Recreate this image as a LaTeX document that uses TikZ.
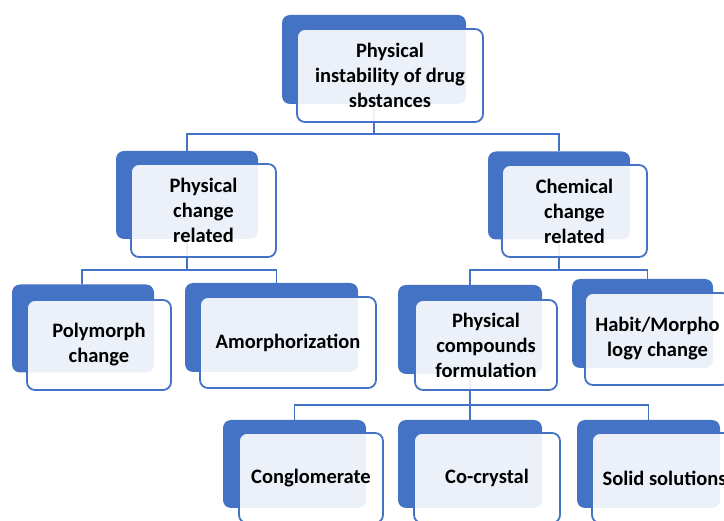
\documentclass[tikz,border=0pt]{standalone}
\usepackage{fontspec}
\setmainfont{Carlito}
\definecolor{accent}{HTML}{4472C4}

\begin{document}
\begin{tikzpicture}[
                x=1pt, y=-1pt,
                back/.style={rectangle,rounded corners=8pt,fill=accent,inner sep=0pt},
                front/.style={rectangle,rounded corners=8pt,draw=accent,line width=1.8pt,
                        fill=white,fill opacity=0.9,text opacity=1,align=center,inner sep=0pt,
                        font=\fontsize{20.5}{25}\selectfont\bfseries},
                link/.style={draw=accent,line width=1.8pt}
            ]

            \clip (0,0) rectangle (724,521);

            \node[back,minimum width=184pt,minimum height=89pt] (topb) at (374,59.5) {};
            \node[back,minimum width=142pt,minimum height=88pt] (physb) at (187,195) {};
            \node[back,minimum width=142pt,minimum height=88pt] (chemb) at (559,195.5) {};
            \node[back,minimum width=142pt,minimum height=88pt] (polyb) at (83,328.5) {};
            \node[back,minimum width=173pt,minimum height=89pt] (amorb) at (271.5,327.5) {};
            \node[back,minimum width=144pt,minimum height=89pt] (compb) at (470,329.5) {};
            \node[back,minimum width=141pt,minimum height=89pt] (habitb) at (642.5,323.5) {};
            \node[back,minimum width=143pt,minimum height=88pt] (congb) at (294.5,464) {};
            \node[back,minimum width=144pt,minimum height=88pt] (cocrb) at (470,464) {};
            \node[back,minimum width=143pt,minimum height=88pt] (solib) at (648.5,464) {};

            \draw[link] (topb.center) -- (topb.center |- 0,134);
            \draw[link] (physb.north) -- (physb.north |- 0,134) -- (chemb.north |- 0,134) -- (chemb.north);
            \draw[link] (physb.center) -- (physb.center |- 0,270);
            \draw[link] ([xshift=-1pt]polyb.north) -- ([xshift=-1pt]polyb.north |- 0,270)
                -- ([xshift=5pt]amorb.north |- 0,270) -- ([xshift=5pt]amorb.north);
            \draw[link] (chemb.center) -- (chemb.center |- 0,270);
            \draw[link] (compb.north) -- (compb.north |- 0,270) -- ([xshift=5pt]habitb.north |- 0,270)
                -- ([xshift=5pt]habitb.north);
            \draw[link] (compb.center) -- (compb.center |- 0,405);
            \draw[link] (congb.north) -- (congb.north |- 0,405) -- (solib.north |- 0,405) -- (solib.north);
            \draw[link] (cocrb.north) -- (cocrb.north |- 0,405);

            \node[front,minimum width=186pt,minimum height=93pt] (top) at (390,75.5) {Physical\\instability of drug\\sbstances};
            \node[front,minimum width=145pt,minimum height=93pt] (phys) at (203.5,210.5) {Physical\\change\\related};
            \node[front,minimum width=145pt,minimum height=92pt] (chem) at (574.5,211) {Chemical\\change\\related};
            \node[front,minimum width=144pt,minimum height=90pt] (poly) at (99,345) {Polymorph\\change};
            \node[front,minimum width=176pt,minimum height=91pt] (amor) at (288,342.5) {Amorphorization};
            \node[front,minimum width=142pt,minimum height=90pt] (comp) at (486,345) {Physical\\compounds\\formulation};
            \node[front,minimum width=145pt,minimum height=92pt] (habit) at (657.5,339) {Habit/Morpho\\logy change};
            \node[front,minimum width=144pt,minimum height=90pt] (cong) at (311,478) {Conglomerate};
            \node[front,minimum width=146pt,minimum height=90pt] (cocr) at (487,478) {Co-crystal};
            \node[front,minimum width=145pt,minimum height=90pt] (soli) at (664.5,478) {Solid solutions};

        \end{tikzpicture}
\end{document}
